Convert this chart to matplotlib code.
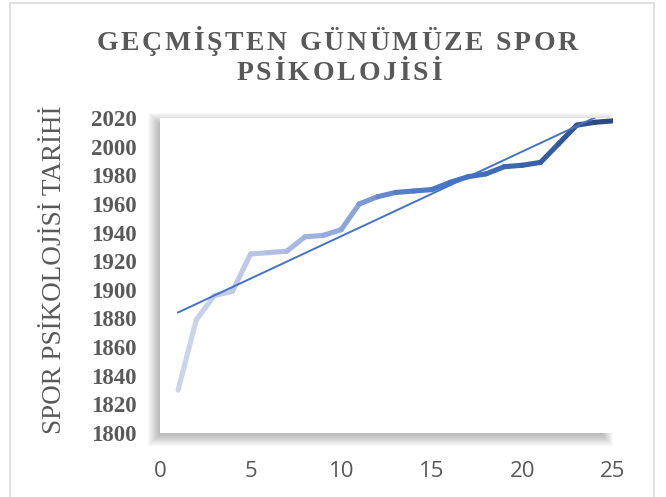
import numpy as np
import matplotlib
matplotlib.use("Agg")
import matplotlib.pyplot as plt
from matplotlib.collections import LineCollection
from matplotlib.colors import LinearSegmentedColormap
from matplotlib.patches import Rectangle
from matplotlib.font_manager import FontProperties

# ---------------- data ----------------
x_index = list(range(1, 26))
years = [1830, 1879, 1896, 1899, 1925, 1926, 1927, 1937, 1938, 1942,
         1960, 1965, 1968, 1969, 1970, 1975, 1979, 1981, 1986, 1987,
         1989, 2002, 2015, 2017, 2018]
title_lines = ["GEÇMİŞTEN GÜNÜMÜZE SPOR", "PSİKOLOJİSİ"]
y_label = "SPOR PSİKOLOJİSİ TARİHİ"
y_ticks = list(range(1800, 2021, 20))
x_ticks = [0, 5, 10, 15, 20, 25]

W, H = 666, 497
GREY = "#595959"

fig = plt.figure(figsize=(W / 100, H / 100), dpi=100)
fig.patch.set_facecolor("white")


def rect_fig(x0, y0, w, h):
    return [x0 / W, 1 - (y0 + h) / H, w / W, h / H]


# outer chart border
fig.patches.append(Rectangle((10 / W, -0.01), (654 - 10) / W, 1 - 3 / H + 0.01,
                             transform=fig.transFigure, fill=False,
                             edgecolor="#d9d9d9", linewidth=1.2, zorder=0))

# plot-area soft shadow (offset left/down)
ax_x0, ax_y0, ax_w, ax_h = 160, 118, 453, 315
sx, sy = -3, 4
for k in range(12):
    e = k - 2
    fig.patches.append(Rectangle(((ax_x0 + sx - e) / W, 1 - (ax_y0 + sy + ax_h + e) / H),
                                 (ax_w + 2 * e - 6) / W, (ax_h + 2 * e) / H,
                                 transform=fig.transFigure, facecolor="#000000",
                                 edgecolor="none", alpha=0.022, zorder=1))

ax = fig.add_axes(rect_fig(ax_x0, ax_y0, ax_w, ax_h))
ax.set_zorder(2)
ax.set_facecolor("white")
ax.set_xlim(0, 25)
ax.set_ylim(1800, 2020)

# gradient line
xs = np.array(x_index, dtype=float)
ys = np.array(years, dtype=float)
pts = np.column_stack([xs, ys]).reshape(-1, 1, 2)
segs = np.concatenate([pts[:-1], pts[1:]], axis=1)
cmap = LinearSegmentedColormap.from_list(
    "grad", [(0.0, "#cbd4ec"), (0.2, "#b3c1e4"), (0.4, "#8aa3d8"),
             (0.5, "#5b80cc"), (0.65, "#4472c4"), (0.8, "#3d66b0"),
             (1.0, "#2c4a80")])
t = np.linspace(0, 1, len(segs))
lc = LineCollection(segs, colors=cmap(t), linewidths=3.7,
                    capstyle="round", joinstyle="round", zorder=3)
ax.add_collection(lc)

# linear trendline
coef = np.polyfit(xs, ys, 1)
tx = np.array([xs[0], xs[-1]])
ax.plot(tx, np.polyval(coef, tx), color="#4472c4", linewidth=1.4, zorder=4)

# axes styling
for s in ax.spines.values():
    s.set_visible(False)
ax.set_xticks(x_ticks)
ax.set_yticks(y_ticks)
ax.tick_params(axis="both", length=0)
ax.tick_params(axis="y", pad=17)
ax.tick_params(axis="x", pad=20)
for lab in ax.get_yticklabels():
    lab.set_fontfamily("Liberation Serif")
    lab.set_fontweight("bold")
    lab.set_fontsize(16.5)
    lab.set_color(GREY)
for lab in ax.get_xticklabels():
    lab.set_fontfamily("Open Sans")
    lab.set_fontsize(16)
    lab.set_color(GREY)

# y label
fig.text(55 / W, 1 - 270 / H, y_label, rotation=90, ha="center", va="center",
         fontfamily="Liberation Serif", fontsize=19.5, color=GREY)

# letter-spaced title
renderer = fig.canvas.get_renderer()
fp = FontProperties(family="Liberation Serif", weight="bold", size=20)


def tracked(text, cx, cy, tracking):
    widths = []
    for ch in text:
        w, h, d = renderer.get_text_width_height_descent(ch, fp, ismath=False)
        widths.append(w)
    total = sum(widths) + tracking * (len(text) - 1)
    xpos = cx - total / 2
    for ch, w in zip(text, widths):
        fig.text(xpos / W, 1 - cy / H, ch, fontproperties=fp, color=GREY,
                 ha="left", va="center")
        xpos += w + tracking


tracked(title_lines[0], 337, 43, 2.7)
tracked(title_lines[1], 339, 74, 2.9)

fig.savefig("out.png", dpi=100)
